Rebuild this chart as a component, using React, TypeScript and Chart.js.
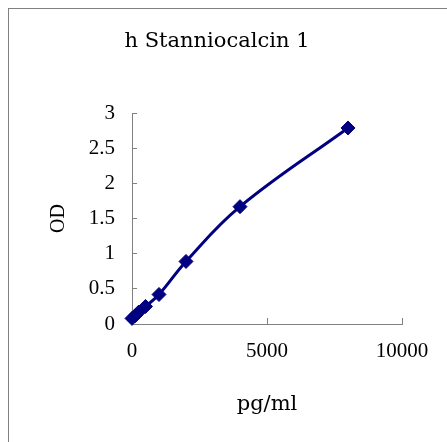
import React, { useEffect, useRef } from "react";
import { Chart, registerables } from "chart.js";

Chart.register(...registerables);

const chartTitle = "h Stanniocalcin 1";
const xAxisTitle = "pg/ml";
const yAxisTitle = "OD";
const concentrations = [0, 125, 250, 500, 1000, 2000, 4000, 8000];
const odValues = [0.08, 0.12, 0.17, 0.25, 0.42, 0.89, 1.67, 2.79];
const xTickValues = [0, 5000, 10000];
const yTickValues = [0, 0.5, 1, 1.5, 2, 2.5, 3];

const AXIS_GRAY = "#808080";
const NAVY = "#000080";

export default function App() {
  const canvasRef = useRef<HTMLCanvasElement | null>(null);

  useEffect(() => {
    const canvas = canvasRef.current;
    if (!canvas) return;
    const chart = new Chart(canvas, {
      type: "scatter",
      data: {
        datasets: [
          {
            data: concentrations.map((c, i) => ({ x: c, y: odValues[i] })),
            showLine: true,
            tension: 0.4,
            borderColor: NAVY,
            borderWidth: 3,
            backgroundColor: NAVY,
            pointStyle: "rectRot",
            pointRadius: 7,
            pointBorderWidth: 1,
            pointBorderColor: NAVY,
            pointBackgroundColor: NAVY,
            clip: false as any,
          },
        ],
      },
      options: {
        responsive: false,
        animation: false,
        devicePixelRatio: 1,
        layout: { padding: { left: 23, right: 77, top: 0, bottom: 0 } },
        plugins: {
          legend: { display: false },
          tooltip: { enabled: false },
          title: {
            display: true,
            text: chartTitle,
            color: "#000",
            font: { family: "'DejaVu Serif'", size: 21, weight: "normal" },
            padding: { top: 20, bottom: 59 },
          },
        },
        scales: {
          x: {
            type: "linear",
            min: xTickValues[0],
            max: xTickValues[xTickValues.length - 1],
            afterBuildTicks: (scale: any) => {
              scale.ticks = xTickValues.map((v) => ({ value: v }));
            },
            afterFit: (scale: any) => {
              scale.height = 155;
            },
            border: { display: true, color: AXIS_GRAY, width: 1 },
            grid: {
              drawOnChartArea: false,
              drawTicks: true,
              tickLength: -6,
              color: AXIS_GRAY,
            },
            ticks: {
              color: "#000",
              padding: 21,
              maxRotation: 0,
              autoSkip: false,
              font: { family: "'Liberation Serif'", size: 21 },
              callback: (v: any) => String(v),
            },
            title: {
              display: true,
              text: xAxisTitle,
              color: "#000",
              font: { family: "'DejaVu Serif'", size: 21 },
              padding: { top: 0, bottom: 62 },
            },
          },
          y: {
            type: "linear",
            min: yTickValues[0],
            max: yTickValues[yTickValues.length - 1],
            afterBuildTicks: (scale: any) => {
              scale.ticks = yTickValues.map((v) => ({ value: v }));
            },
            afterFit: (scale: any) => {
              scale.width = 100;
            },
            border: { display: true, color: AXIS_GRAY, width: 1 },
            grid: {
              drawOnChartArea: false,
              drawTicks: true,
              tickLength: -5,
              color: AXIS_GRAY,
            },
            ticks: {
              color: "#000",
              padding: 22,
              autoSkip: false,
              font: { family: "'Liberation Serif'", size: 21 },
              callback: (v: any) => String(v),
            },
            title: {
              display: true,
              text: yAxisTitle,
              color: "#000",
              font: { family: "'Liberation Serif'", size: 20 },
              padding: { top: 15, bottom: 0 },
            },
          },
        },
      },
    });
    return () => chart.destroy();
  }, []);

  return (
    <div
      style={{
        position: "absolute",
        left: 8,
        top: 8,
        width: 439,
        height: 434,
        overflow: "hidden",
      }}
    >
      <div
        style={{
          border: "1px solid #808080",
          width: 470,
          height: 470,
          background: "#fff",
        }}
      >
        <canvas
          ref={canvasRef}
          width={470}
          height={470}
          style={{ display: "block" }}
        />
      </div>
    </div>
  );
}
